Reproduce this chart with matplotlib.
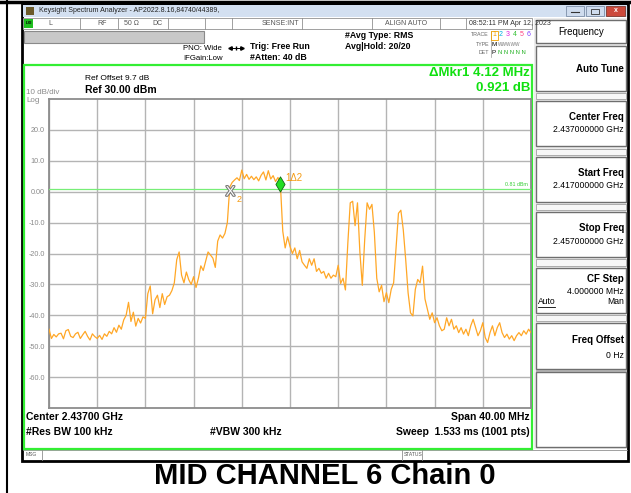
import numpy as np
import matplotlib
matplotlib.use("Agg")
import matplotlib.pyplot as plt
from matplotlib.patches import Rectangle
from matplotlib.path import Path
import matplotlib.patheffects as pe

plt.rcParams['font.family'] = ['Liberation Sans', 'DejaVu Sans']

# ---------------- data ----------------
start_ghz = 2.417
stop_ghz = 2.457
span_mhz = 40.0
ref_level = 30.0
db_per_div = 10.0
display_line_db = 0.81

# trace samples, one every 0.2 MHz from start frequency (dBm)
trace_db = [
    # 0.0 - 4.0 MHz
    -44.5, -47.5, -46.2, -47.0, -46.0, -45.8, -47.6, -45.0, -44.6, -46.8, -47.2,
    -46.0, -45.5, -47.5, -46.3, -45.2, -46.8, -48.0, -46.0, -46.9, -47.5,
    # 4.2 - 7.8
    -46.5, -47.8, -46.0, -46.8, -45.2, -46.0, -44.0, -45.5, -43.2, -44.5,
    -41.5, -40.0, -35.8, -42.0, -39.0, -43.5, -41.0, -42.5, -40.5,
    # 8.0 - 15.0
    -41.0, -33.0, -30.5, -39.5, -35.0, -33.5, -37.5, -33.0, -36.5, -34.0,
    -33.5, -32.0, -29.5, -22.0, -19.5, -27.0, -29.5, -26.0, -28.5, -30.0,
    -27.5, -31.0, -28.0, -24.0, -25.5, -22.5, -19.5, -20.5, -21.5, -24.5,
    -16.0, -14.0, -15.0, -13.5, -10.0, 1.5,
    # 15.2 - 19.2 (channel plateau)
    3.0, 3.8, 4.5, 3.6, 7.0, 4.2, 5.6, 4.0, 5.0, 3.9,
    4.8, 3.5, 5.3, 6.4, 3.8, 6.8, 4.1, 5.2, 3.3, 4.6, 2.6,
    # 19.4 - 27.8
    -12.8, -18.2, -14.6, -17.7, -20.0, -18.2, -21.7, -19.0, -22.7, -23.8,
    -24.8, -21.7, -23.8, -21.7, -25.8, -24.8, -26.4, -25.8, -28.0, -26.4,
    -28.0, -27.0, -27.5, -23.8, -29.7, -28.0, -31.8, -16.6, -3.6, -3.1,
    -11.0, -3.6, -19.6, -30.3, -15.5, -3.6, -5.7, -4.1, -13.2, -28.0,
    -32.4, -30.3, -35.6,
    # 28.0 - 40.0
    -32.7, -35.9, -31.6, -29.5, -18.0, -7.0, -6.0, -12.3, -21.9, -32.7,
    -39.2, -40.2, -31.6, -28.4, -29.5, -24.1, -34.7, -38.0, -41.3, -39.2,
    -42.4, -40.8, -43.4, -45.0, -44.5, -40.8, -43.4, -41.3, -44.5, -43.4,
    -45.6, -44.0, -46.1, -44.5, -46.6, -43.4, -41.3, -44.0, -46.6, -45.0,
    -42.4, -47.2, -48.8, -45.6, -43.4, -46.6, -44.0, -42.4, -45.6, -47.2,
    -46.1, -47.7, -46.6, -48.2, -46.6, -45.6, -46.6, -45.0, -46.1, -44.5,
    -45.6,
]
trace_freq_mhz = np.linspace(0.0, span_mhz, len(trace_db))

marker2_mhz, marker2_db = 15.05, 0.0
marker1_mhz, marker1_db = 19.17, 2.6

ytick_values = [-60, -50, -40, -30, -20, -10, 0, 10, 20]
ytick_labels = ["-60.0", "-50.0", "-40.0", "-30.0", "-20.0", "-10.0", "0.00", "10.0", "20.0"]

# ---------------- figure ----------------
W, H = 631, 493
fig = plt.figure(figsize=(W / 100, H / 100), dpi=100)
fig.patch.set_facecolor('white')

ax0 = fig.add_axes([0, 0, 1, 1], zorder=0)
ax0.set_xlim(0, W)
ax0.set_ylim(H, 0)
ax0.axis('off')


def rect(x0, y0, x1, y1, fc='none', ec='none', lw=1.0, z=1):
    ax0.add_patch(Rectangle((x0, y0), x1 - x0, y1 - y0, facecolor=fc,
                            edgecolor=ec, linewidth=lw, zorder=z))


def txt(x, y, s, size=6, color='black', weight='normal', ha='left', va='center', z=5, **kw):
    ax0.text(x, y, s, fontsize=size, color=color, fontweight=weight,
             ha=ha, va=va, zorder=z, **kw)


# outer page lines
ax0.plot([7, 7], [0, H], color='black', lw=1.5, zorder=6)
ax0.plot([0, W], [2, 2], color='black', lw=2.5, zorder=6)

# screenshot background + frame
rect(22, 4, 628, 461, fc='white', ec='black', lw=2.0, z=1)

# title bar
rect(23, 5, 627, 17, fc='#d3e0f1', z=2)
rect(26, 7, 34, 15, fc='#6b5a2a', z=3)
txt(39, 11, "Keysight Spectrum Analyzer - AP2022.8.16,84740/44389,", size=5, color='#222')
rect(566, 6, 584, 15.5, fc='#cfdcee', ec='#7d8fa8', lw=0.6, z=3)
rect(586, 6, 604, 15.5, fc='#cfdcee', ec='#7d8fa8', lw=0.6, z=3)
rect(606, 6, 625, 15.5, fc='#cc4a3c', ec='#7d3a30', lw=0.6, z=3)
ax0.plot([571, 579], [12, 12], color='#333', lw=0.8, zorder=4)
rect(591, 8.5, 599, 13.5, ec='#333', lw=0.6, z=4)
txt(615.5, 10.8, "x", size=5, color='white', weight='bold', ha='center')

# status row
rect(23, 18, 532, 29, fc='white', ec='#909090', lw=0.6, z=2)
rect(24, 19, 33, 28, fc='#20c020', z=3)
txt(28.5, 23.5, "LXI", size=3, ha='center', weight='bold')
for xs in [80, 118, 168, 205, 232, 302, 372, 440, 466]:
    ax0.plot([xs, xs], [18, 29], color='#909090', lw=0.6, zorder=3)
txt(48, 23.5, "L", size=5, color='#555')
txt(97, 23.5, "RF", size=5, color='#555')
txt(124, 23.5, "50 \u03a9", size=5, color='#555')
txt(152, 23.5, "DC", size=5, color='#555')
txt(299, 23.5, "SENSE:INT", size=5, color='#555', ha='right')
txt(406, 23.5, "ALIGN AUTO", size=5, color='#555', ha='center')
txt(469, 23.5, "08:52:11 PM Apr 12, 2023", size=5, color='#333')

# grey bar
rect(24, 31, 204, 43, fc='#c8c8c8', ec='#8a8a8a', lw=0.8, z=2)

# header info
txt(183, 48.5, "PNO: Wide", size=5.6)
txt(183, 58.5, "IFGain:Low", size=5.6)
ax0.plot([229, 242], [47.5, 47.5], color='black', lw=0.7, zorder=5)
ax0.plot([229.5], [47.5], marker='<', ms=2.5, color='black', zorder=5)
ax0.plot([241.5], [47.5], marker='>', ms=2.5, color='black', zorder=5)
ax0.plot([235.5], [47.5], marker='|', ms=3, color='black', zorder=5)
txt(250, 46.5, "Trig: Free Run", size=6.3, weight='bold')
txt(250, 57.5, "#Atten: 40 dB", size=6.3, weight='bold')
txt(345, 35.5, "#Avg Type: RMS", size=6.3, weight='bold')
txt(345, 46.5, "Avg|Hold: 20/20", size=6.3, weight='bold')

txt(489, 35, "TRACE", size=3.8, color='#666', ha='right')
txt(489, 44, "TYPE", size=3.8, color='#666', ha='right')
txt(489, 52.5, "DET", size=3.8, color='#666', ha='right')
ax0.plot([490.5, 490.5], [31, 57], color='#999', lw=0.5, zorder=4)
trace_cols = ['#f0a000', '#00b0e0', '#e020e0', '#30c030', '#ff4080', '#8040ff']
for i, c in enumerate(trace_cols):
    txt(494 + i * 7, 35, str(i + 1), size=5, color=c, ha='center')
rect(491, 30.5, 497.5, 39.5, ec='#f0a000', lw=0.6, z=4)
txt(494, 44, "M", size=4.5, ha='center')
txt(498, 44, "WWWWW", size=3.4, color='#777')
txt(494, 52.5, "P", size=4.5, ha='center')
txt(498.5, 52.5, "N N N N N", size=4.2, color='#20b020')

# green display frame
rect(24, 65, 532, 449, ec='#33ee33', lw=1.6, z=4)

txt(530, 73.5, "\u0394Mkr1 4.12 MHz", size=9.5, color='#10e010', weight='bold', ha='right')
txt(530, 88, "0.921 dB", size=9.5, color='#10e010', weight='bold', ha='right')
txt(85, 79, "Ref Offset 9.7 dB", size=6)
txt(85, 90, "Ref 30.00 dBm", size=7.5, weight='bold')
txt(26, 93, "10 dB/div", size=5.8, color='#8a8a8a')
txt(26, 100, "Log", size=5.8, color='#8a8a8a')

txt(26, 417, "Center 2.43700 GHz", size=7.5, weight='bold')
txt(26, 432, "#Res BW 100 kHz", size=7.5, weight='bold')
txt(210, 432, "#VBW 300 kHz", size=7.5, weight='bold')
txt(530, 417, "Span 40.00 MHz", size=7.5, weight='bold', ha='right')
txt(530, 432, "Sweep  1.533 ms (1001 pts)", size=7.5, weight='bold', ha='right')

# message row
ax0.plot([23, 627], [449.5, 449.5], color='#909090', lw=0.6, zorder=3)
ax0.plot([42, 42], [450, 460], color='#909090', lw=0.6, zorder=3)
ax0.plot([402, 402], [450, 460], color='#909090', lw=0.6, zorder=3)
ax0.plot([422, 422], [450, 460], color='#909090', lw=0.6, zorder=3)
txt(26, 455, "MSG", size=3.6, color='#555')
txt(404, 455, "STATUS", size=3.6, color='#555')

# softkey panel
rect(534, 18, 627, 449, fc='#ececec', z=2)
keys = [
    (20, 43, [("Frequency", 32, 7, 'normal', 'center')]),
    (46, 91, [("Auto Tune", 69, 7, 'bold', 'right')]),
    (101, 146, [("Center Freq", 117, 7, 'bold', 'right'), ("2.437000000 GHz", 130, 6.2, 'normal', 'right')]),
    (157, 202, [("Start Freq", 173, 7, 'bold', 'right'), ("2.417000000 GHz", 186, 6.2, 'normal', 'right')]),
    (212, 257, [("Stop Freq", 228, 7, 'bold', 'right'), ("2.457000000 GHz", 242, 6.2, 'normal', 'right')]),
    (268, 313, [("CF Step", 279, 7, 'bold', 'right'), ("4.000000 MHz", 291, 6.2, 'normal', 'right')]),
    (323, 369, [("Freq Offset", 340, 7, 'bold', 'right'), ("0 Hz", 355, 6.2, 'normal', 'right')]),
    (372, 447, []),
]
for y0, y1, lines in keys:
    rect(536, y0, 626, y1, fc='white', ec='#6e6e6e', lw=1.0, z=3)
    for s, yy, sz, wt, ha in lines:
        xx = 581 if ha == 'center' else 624
        txt(xx, yy, s, size=sz, weight=wt, ha=ha)
for y0, y1 in [(93, 99), (148.5, 155), (204, 210), (259, 266), (315, 321), (370, 371)]:
    rect(536, y0, 626, y1, fc='#f7f7f7', ec='#a0a0a0', lw=0.6, z=3)
txt(538, 302, "Auto", size=6.2)
ax0.plot([538, 555], [306.5, 306.5], color='black', lw=0.6, zorder=5)
txt(624, 302, "Man", size=6.2, ha='right')

# bottom caption
txt(325, 476, "MID CHANNEL 6 Chain 0", size=21, weight='bold', ha='center')

# ---------------- spectrum plot ----------------
ax = fig.add_axes([49 / W, 1 - 408 / H, 482 / W, 309 / H], zorder=2)
ax.set_facecolor('white')
bottom = ref_level - 10 * db_per_div
ax.set_xlim(0, span_mhz)
ax.set_ylim(bottom, ref_level)
ax.set_xticks(np.arange(0, span_mhz + 0.1, span_mhz / 10))
ax.set_yticks(ytick_values)
ax.set_yticklabels(ytick_labels)
ax.tick_params(axis='y', length=0, labelsize=5.2, labelcolor='#8a8a8a', pad=3)
ax.tick_params(axis='x', length=0, labelbottom=False)
ax.grid(True, color='#b4b4b4', lw=1.0)
for sp in ax.spines.values():
    sp.set_color('#8c8c8c')
    sp.set_linewidth(1.3)

ax.axhline(display_line_db, color='#77ee77', lw=0.9, zorder=3)
ax.text(39.7, display_line_db + 0.6, "0.81 dBm", fontsize=3.8, color='#33cc33',
        ha='right', va='bottom')

ax.plot(trace_freq_mhz, trace_db, color='#ffa726', lw=0.9, zorder=4)

diamond = Path([(0, 1.0), (0.6, 0), (0, -1.0), (-0.6, 0), (0, 1.0)],
               [Path.MOVETO, Path.LINETO, Path.LINETO, Path.LINETO, Path.CLOSEPOLY])
ax.plot([marker1_mhz], [marker1_db], marker=diamond, ms=11, mfc='#22dd22',
        mec='#116611', mew=0.6, zorder=6)
ax.text(marker1_mhz + 0.45, marker1_db + 1.8, "1\u03942", fontsize=7, color='#f59a10',
        ha='left', va='center', zorder=6)
ax.text(marker2_mhz, marker2_db, "X", fontsize=10, color='white', ha='center', va='center',
        zorder=6, path_effects=[pe.withStroke(linewidth=1.6, foreground='#7a7a7a')])
ax.text(marker2_mhz + 0.55, marker2_db - 2.4, "2", fontsize=6.5, color='#f59a10',
        ha='left', va='center', zorder=6)

fig.savefig("out.png", dpi=100, facecolor='white')
